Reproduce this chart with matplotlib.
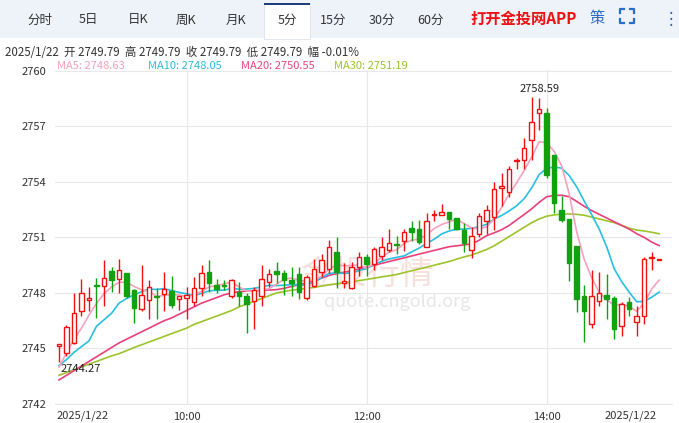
import numpy as np
import pandas as pd
import matplotlib
matplotlib.use("Agg")
import matplotlib.pyplot as plt
from matplotlib.patches import Rectangle
from matplotlib.lines import Line2D

plt.rcParams['font.family'] = ['Noto Sans CJK SC', 'DejaVu Sans']

# 5-minute candles, 2025/1/22
opens = [2745.13, 2744.76, 2745.29, 2747.01, 2747.60, 2748.40, 2748.37, 2749.19, 2748.75, 2749.08,
         2748.16, 2747.13, 2747.63, 2747.81, 2747.95, 2748.13, 2747.68, 2747.73, 2747.49, 2748.25,
         2749.14, 2748.43, 2748.43, 2747.81, 2748.07, 2747.84, 2747.54, 2747.81, 2748.60, 2749.17,
         2749.09, 2748.70, 2749.01, 2747.72, 2748.38, 2749.14, 2749.32, 2750.20, 2748.52, 2748.25,
         2749.40, 2749.94, 2749.55, 2750.02, 2750.33, 2750.62, 2750.79, 2751.53, 2751.44, 2750.47,
         2752.22, 2752.24, 2752.37, 2752.03, 2751.39, 2750.33, 2751.21, 2751.89, 2752.10, 2753.66,
         2753.45, 2755.15, 2755.20, 2756.28, 2757.74, 2757.70, 2755.47, 2752.51, 2752.01, 2750.56,
         2747.81, 2746.30, 2747.54, 2747.90, 2747.72, 2746.21, 2747.49, 2746.43, 2746.74, 2749.90,
         2749.79]
closes = [2745.24, 2746.16, 2746.92, 2747.98, 2747.74, 2748.37, 2748.83, 2748.69, 2749.23, 2747.84,
          2747.19, 2747.90, 2748.34, 2747.76, 2748.20, 2747.33, 2747.84, 2747.90, 2748.25, 2749.10,
          2748.52, 2748.22, 2748.40, 2748.69, 2747.81, 2747.40, 2748.16, 2748.75, 2749.05, 2749.01,
          2748.70, 2748.55, 2748.06, 2748.87, 2749.32, 2749.76, 2750.47, 2749.14, 2748.64, 2749.40,
          2749.94, 2749.55, 2750.38, 2750.47, 2750.68, 2750.59, 2751.27, 2751.27, 2750.73, 2751.89,
          2752.25, 2752.37, 2751.98, 2751.44, 2750.68, 2751.09, 2752.15, 2752.51, 2753.62, 2753.80,
          2754.69, 2755.17, 2755.82, 2757.26, 2757.95, 2754.37, 2752.86, 2751.92, 2749.63, 2747.67,
          2747.01, 2747.86, 2747.99, 2747.67, 2746.07, 2747.42, 2747.13, 2746.78, 2749.85, 2749.94,
          2749.79]
highs = [2745.24, 2746.26, 2747.98, 2748.78, 2748.34, 2748.82, 2749.76, 2749.40, 2749.81, 2749.10,
         2748.20, 2749.49, 2748.70, 2748.25, 2749.14, 2748.90, 2747.84, 2748.34, 2748.87, 2749.49,
         2749.76, 2748.78, 2748.70, 2748.78, 2748.60, 2747.98, 2748.34, 2749.49, 2749.31, 2749.67,
         2749.23, 2749.40, 2749.40, 2748.96, 2749.85, 2750.11, 2750.86, 2751.00, 2749.62, 2749.67,
         2750.20, 2750.11, 2750.50, 2751.04, 2751.44, 2751.09, 2751.44, 2751.89, 2751.92, 2752.33,
         2752.51, 2752.81, 2752.40, 2752.07, 2751.80, 2751.57, 2752.33, 2752.77, 2753.98, 2754.51,
         2754.87, 2755.30, 2756.35, 2758.59, 2758.53, 2758.00, 2755.47, 2753.22, 2752.01, 2750.56,
         2748.43, 2749.23, 2749.14, 2749.05, 2747.81, 2747.49, 2747.77, 2747.31, 2749.94, 2750.20,
         2749.79]
lows = [2744.27, 2744.60, 2745.24, 2746.74, 2747.01, 2746.65, 2747.27, 2748.07, 2747.98, 2747.72,
        2746.39, 2747.01, 2746.60, 2746.57, 2747.01, 2747.19, 2747.10, 2746.60, 2747.27, 2747.81,
        2748.07, 2747.98, 2748.16, 2747.72, 2747.27, 2745.86, 2746.03, 2747.27, 2748.34, 2748.52,
        2747.90, 2747.84, 2747.67, 2747.63, 2748.34, 2748.87, 2749.09, 2748.25, 2748.25, 2748.20,
        2748.90, 2748.90, 2749.23, 2749.76, 2750.20, 2750.11, 2750.29, 2750.82, 2750.65, 2750.47,
        2751.89, 2752.24, 2751.44, 2751.39, 2750.20, 2749.90, 2751.00, 2751.18, 2751.39, 2752.68,
        2753.16, 2754.69, 2754.72, 2755.20, 2756.81, 2754.23, 2752.33, 2751.85, 2748.66, 2746.96,
        2745.36, 2746.12, 2747.28, 2746.57, 2745.50, 2745.68, 2746.74, 2745.68, 2746.30, 2749.26,
        2749.79]

# MA values at the start (they include earlier candles not on screen)
ma5_start = [2744.00, 2744.75, 2745.50, 2746.10]
ma10_start = [2744.08, 2744.40, 2744.79, 2745.10, 2745.41, 2746.20, 2746.55, 2746.90, 2747.45]

ma20 = [2743.30, 2743.55, 2743.80, 2744.05, 2744.30, 2744.55, 2744.80, 2745.05, 2745.30, 2745.50,
        2745.70, 2745.90, 2746.10, 2746.30, 2746.50, 2746.65, 2746.85, 2747.05, 2747.25, 2747.45,
        2747.60, 2747.75, 2747.90, 2748.00, 2748.07, 2748.10, 2748.12, 2748.14, 2748.16, 2748.18,
        2748.25, 2748.35, 2748.45, 2748.55, 2748.65, 2748.80, 2748.95, 2749.05, 2749.12, 2749.20,
        2749.30, 2749.40, 2749.50, 2749.60, 2749.70, 2749.80, 2749.90, 2750.00, 2750.10, 2750.20,
        2750.30, 2750.40, 2750.50, 2750.55, 2750.60, 2750.65, 2750.85, 2751.10, 2751.25, 2751.42,
        2751.65, 2751.95, 2752.24, 2752.55, 2752.90, 2753.20, 2753.27, 2753.28, 2753.20, 2752.95,
        2752.68, 2752.45, 2752.25, 2752.05, 2751.85, 2751.65, 2751.45, 2751.20, 2751.00, 2750.75,
        2750.56]
ma30 = [2743.55, 2743.70, 2743.85, 2744.00, 2744.15, 2744.30, 2744.45, 2744.60, 2744.72, 2744.88,
        2745.05, 2745.20, 2745.35, 2745.50, 2745.65, 2745.80, 2745.95, 2746.10, 2746.30, 2746.45,
        2746.60, 2746.75, 2746.90, 2747.05, 2747.25, 2747.40, 2747.55, 2747.70, 2747.85, 2748.00,
        2748.08, 2748.15, 2748.20, 2748.25, 2748.30, 2748.37, 2748.44, 2748.50, 2748.55, 2748.60,
        2748.67, 2748.73, 2748.80, 2748.87, 2748.93, 2749.00, 2749.10, 2749.20, 2749.30, 2749.40,
        2749.50, 2749.60, 2749.70, 2749.83, 2749.95, 2750.05, 2750.20, 2750.35, 2750.55, 2750.80,
        2751.05, 2751.30, 2751.55, 2751.80, 2752.00, 2752.15, 2752.22, 2752.26, 2752.27, 2752.25,
        2752.20, 2752.10, 2752.00, 2751.90, 2751.80, 2751.65, 2751.50, 2751.40, 2751.35, 2751.28,
        2751.20]

yticks = [2742, 2745, 2748, 2751, 2754, 2757, 2760]
xtick_pos = [17, 41, 65]
xtick_labels = ["10:00", "12:00", "14:00"]
tabs = ["分时", "5日", "日K", "周K", "月K", "5分", "15分", "30分", "60分"]
tab_x = [40, 88, 138, 186, 236, 287, 333, 382, 430]

ma5 = pd.Series(closes).rolling(5).mean().values
ma5[:len(ma5_start)] = ma5_start
ma10 = pd.Series(closes).rolling(10).mean().values
ma10[:len(ma10_start)] = ma10_start

W, H = 679, 423
fig = plt.figure(figsize=(W / 100, H / 100), dpi=100)
fig.patch.set_facecolor("white")

# toolbar
fig.patches.append(Rectangle((0, 1 - 38 / H), 1, 38 / H, transform=fig.transFigure,
                             facecolor="#eef3fa", edgecolor="none"))
fig.patches.append(Rectangle((264 / W, 1 - 39 / H), 46 / W, 36 / H, transform=fig.transFigure,
                             facecolor="white", edgecolor="#dde3ec", lw=0.6))
fig.patches.append(Rectangle((264 / W, 1 - 5 / H), 46 / W, 2 / H, transform=fig.transFigure,
                             facecolor="#1f3f7a", edgecolor="none"))
for t, x in zip(tabs, tab_x):
    fig.text(x / W, 1 - 20 / H, t, ha="center", va="center", fontsize=9, color="#333333")
fig.text(470 / W, 1 - 19 / H, "打开金投网APP", ha="left", va="center", fontsize=11,
         color="#ee1111", fontweight="bold")
fig.text(597 / W, 1 - 19 / H, "策", ha="center", va="center", fontsize=11, color="#2a6cc9")
# fullscreen icon: four corners
cx, cy, r, k = 627, 16, 7, 4
for sx in (-1, 1):
    for sy in (-1, 1):
        px, py = cx + sx * r, cy + sy * r
        fig.lines.append(Line2D([px / W, px / W, (px - sx * k) / W],
                                [1 - (py - sy * k) / H, 1 - py / H, 1 - py / H],
                                transform=fig.transFigure, color="#2a6cc9", lw=1.6))
fig.text(671 / W, 1 - 19 / H, "⋮", ha="center", va="center", fontsize=12, color="#2a6cc9",
         family=["DejaVu Sans"])

fig.text(5 / W, 1 - 53 / H, "2025/1/22  开 2749.79  高 2749.79  收 2749.79  低 2749.79  幅 -0.01%",
         ha="left", va="center", fontsize=8.3, color="#333333")
for lbl, x, c in [("MA5: 2748.63", 57, "#f5a0b8"), ("MA10: 2748.05", 148, "#2bbcd8"),
                  ("MA20: 2750.55", 241, "#e8457a"), ("MA30: 2751.19", 334, "#9ac12a")]:
    fig.text(x / W, 1 - 66 / H, lbl, ha="left", va="center", fontsize=8, color=c)

ax = fig.add_axes([55 / W, 1 - 404 / H, 617 / W, 334 / H])
ax.set_xlim(-0.53, 81.7)
ax.set_ylim(2742.3, 2760.05)
for s in ax.spines.values():
    s.set_visible(False)
ax.set_yticks(yticks)
ax.set_yticklabels([str(v) for v in yticks], fontsize=8, color="#333333")
ax.tick_params(axis="y", length=0, pad=6)
ax.set_xticks(xtick_pos)
ax.set_xticklabels(xtick_labels, fontsize=8, color="#333333")
ax.tick_params(axis="x", length=0, pad=6)
ax.grid(True, color="#e8e8e8", lw=0.8)
ax.set_axisbelow(True)
ax.axhline(2742, color="#e8e8e8", lw=0.8, clip_on=False)

# watermark
ax.text(41, 2749.0, "金投行情", ha="center", va="center", fontsize=24, color="#f6e0dc",
        zorder=0)
ax.text(45, 2747.5, "quote.cngold.org", ha="center", va="center", fontsize=13,
        color="#e6e6e6", zorder=0)

x = np.arange(len(closes))
ax.plot(x, ma30, color="#9dc32c", lw=1.2, zorder=2)
ax.plot(x, ma20, color="#e9407a", lw=1.2, zorder=2)
ax.plot(x, ma10, color="#28bfe0", lw=1.2, zorder=2)
ax.plot(x, ma5, color="#f7a1bb", lw=1.2, zorder=2)

for i in range(len(closes)):
    o, c, h, l = opens[i], closes[i], highs[i], lows[i]
    up = c >= o
    col = "#f01010" if up else "#10a010"
    ax.vlines(i, l, h, color=col, lw=1, zorder=3)
    bot, top = min(o, c), max(o, c)
    hgt = max(top - bot, 0.04)
    ax.add_patch(Rectangle((i - 0.3, bot), 0.6, hgt, facecolor="white" if up else col,
                           edgecolor=col, lw=1, zorder=4))

ax.text(64, 2758.75, "2758.59", ha="center", va="bottom", fontsize=8, color="#222222")
ax.text(0.2, 2743.9, "2744.27", ha="left", va="center", fontsize=8, color="#222222")

fig.text(57 / W, 1 - 416 / H, "2025/1/22", ha="left", va="center", fontsize=8, color="#333333")
fig.text(657 / W, 1 - 416 / H, "2025/1/22", ha="right", va="center", fontsize=8, color="#333333")

fig.savefig("out.png", dpi=100)
